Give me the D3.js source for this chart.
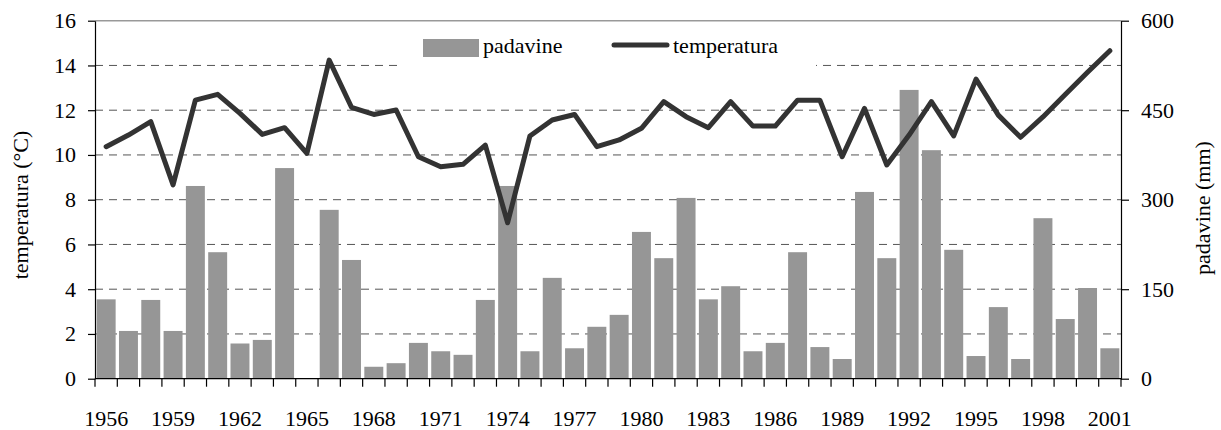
<!DOCTYPE html>
<html>
<head>
    <title>Padavine in temperatura</title>
    <style>
        body { margin: 0; background: #fff; }
        #chart { width: 1221px; height: 430px; }
        .grid line { stroke: #555; stroke-dasharray: 8,6; stroke-width: 1; }
        .axis path, .axis line { stroke: #000; stroke-width: 1.2; }
    </style>
</head>
<body>
    <div id="chart"></div>

    <script src="https://d3js.org/d3.v7.min.js"></script>
    <script>
        var years = d3.range(1956, 2002);
        // padavine (mm)
        var rain = [133, 80, 132, 80, 323, 212, 59, 65, 353, 0,
                    283, 199, 20, 26, 60, 46, 40, 132, 323, 46,
                    169, 51, 87, 107, 246, 202, 303, 133, 155, 46,
                    60, 212, 53, 33, 313, 202, 484, 383, 216, 38,
                    120, 33, 269, 100, 152, 51];
        // temperatura (°C)
        var temp = [10.37, 10.89, 11.49, 8.66, 12.45, 12.71, 11.86, 10.92, 11.22, 10.07,
                    14.24, 12.13, 11.81, 12.01, 9.92, 9.47, 9.58, 10.44, 6.97, 10.85,
                    11.56, 11.81, 10.37, 10.67, 11.19, 12.38, 11.71, 11.22, 12.38, 11.29,
                    11.29, 12.45, 12.45, 9.92, 12.08, 9.55, 10.89, 12.38, 10.85, 13.39,
                    11.78, 10.79, 11.7, 12.7, 13.7, 14.66];
        var tempTicks = [0, 2, 4, 6, 8, 10, 12, 14, 16];
        var rainTicks = [0, 150, 300, 450, 600];
        var labelYears = years.filter(function (y) { return (y - 1956) % 3 === 0; });

        var FONT = "'Liberation Serif', 'Times New Roman', serif";
        var width = 1221, height = 430;
        var m = { left: 95, right: 100, top: 20.7, bottom: 51.3 };
        var w = width - m.left - m.right, h = height - m.top - m.bottom;

        var svg = d3.select("#chart").append("svg")
            .attr("width", width).attr("height", height);
        var g = svg.append("g").attr("transform", "translate(" + m.left + "," + m.top + ")");

        var x = d3.scaleBand().domain(years).range([0, w]).paddingInner(0.15).paddingOuter(0.075);
        var yT = d3.scaleLinear().domain([0, 16]).range([h, 0]);
        var yR = d3.scaleLinear().domain([0, 600]).range([h, 0]);

        // top border
        g.append("line").attr("x1", 0).attr("x2", w).attr("y1", 0).attr("y2", 0)
            .attr("stroke", "#999").attr("stroke-width", 1.5);

        // gridlines
        g.append("g").attr("class", "grid")
            .selectAll("line").data(tempTicks.filter(function (d) { return d > 0 && d < 16; }))
            .enter().append("line")
            .attr("x1", 0).attr("x2", w)
            .attr("y1", function (d) { return yT(d); })
            .attr("y2", function (d) { return yT(d); });

        // bars
        g.selectAll(".bar").data(rain).enter().append("rect")
            .attr("x", function (d, i) { return x(years[i]); })
            .attr("width", x.bandwidth())
            .attr("y", function (d) { return yR(d); })
            .attr("height", function (d) { return h - yR(d); })
            .attr("fill", "#969696");

        // legend box
        var leg = g.append("g");
        leg.append("rect").attr("x", 402 - m.left).attr("y", 2).attr("width", 414).attr("height", 48)
            .attr("fill", "#fff");
        leg.append("rect").attr("x", 423 - m.left).attr("y", 39 - m.top).attr("width", 56).attr("height", 18)
            .attr("fill", "#969696");
        leg.append("text").attr("x", 483 - m.left).attr("y", 53 - m.top)
            .text("padavine");
        leg.append("line").attr("x1", 614 - m.left).attr("x2", 667 - m.left)
            .attr("y1", 45 - m.top).attr("y2", 45 - m.top)
            .attr("stroke", "#333").attr("stroke-width", 5).attr("stroke-linecap", "round");
        leg.append("text").attr("x", 673 - m.left).attr("y", 53 - m.top)
            .text("temperatura");

        // temperature line
        var line = d3.line()
            .x(function (d, i) { return x(years[i]) + x.bandwidth() / 2; })
            .y(function (d) { return yT(d); });
        g.append("path").datum(temp)
            .attr("d", line)
            .attr("fill", "none").attr("stroke", "#333").attr("stroke-width", 5)
            .attr("stroke-linejoin", "round").attr("stroke-linecap", "round");

        // axes
        g.append("g").attr("class", "axis")
            .call(d3.axisLeft(yT).tickValues(tempTicks).tickSize(7).tickSizeOuter(0).tickPadding(12));

        g.append("g").attr("class", "axis").attr("transform", "translate(" + w + ",0)")
            .call(d3.axisRight(yR).tickValues(rainTicks).tickSize(8).tickSizeOuter(0).tickPadding(12));

        // x axis: ticks between categories, labels every 3 years
        var xa = g.append("g").attr("class", "axis").attr("transform", "translate(0," + h + ")");
        xa.append("line").attr("x1", 0).attr("x2", w).attr("stroke", "#000").attr("stroke-width", 1.5);
        var step = x.step();
        xa.selectAll(".tk").data(d3.range(years.length + 1)).enter().append("line")
            .attr("x1", function (i) { return i * step; })
            .attr("x2", function (i) { return i * step; })
            .attr("y1", 0).attr("y2", 8);
        xa.selectAll(".lb").data(labelYears).enter().append("text")
            .attr("x", function (d) { return x(d) + x.bandwidth() / 2; })
            .attr("y", 47).attr("text-anchor", "middle")
            .text(function (d) { return d; });

        // axis titles
        svg.append("text").attr("transform", "translate(28,205) rotate(-90)")
            .attr("text-anchor", "middle").text("temperatura (°C)");
        svg.append("text").attr("transform", "translate(1210,208) rotate(-90)")
            .attr("text-anchor", "middle").text("padavine (mm)");

        svg.selectAll("text")
            .style("font-family", FONT)
            .style("font-size", "22px")
            .style("fill", "#000");
    </script>
</body>
</html>
